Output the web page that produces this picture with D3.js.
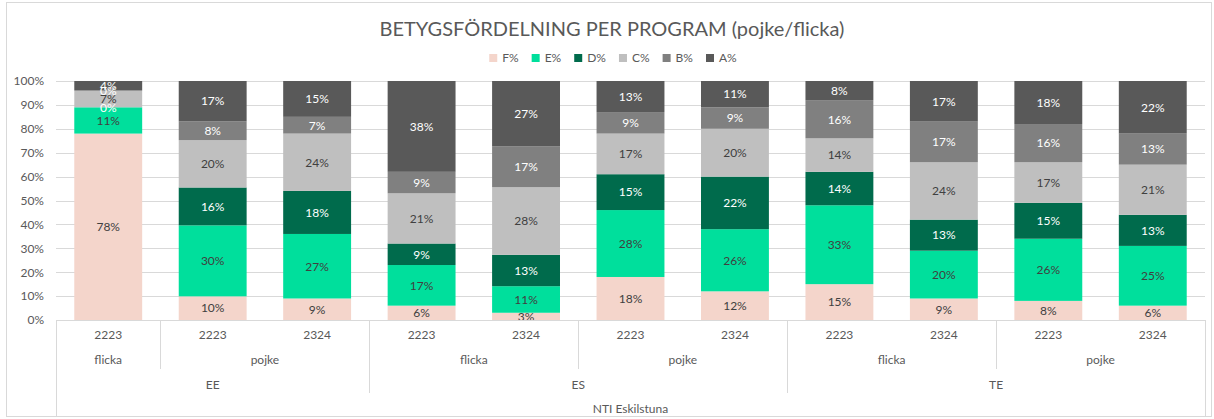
<!DOCTYPE html>
<html>
<head>
<meta charset="utf-8">
<script src="https://cdn.jsdelivr.net/npm/d3@7"></script>
<style>
  body { margin: 0; background: #fff; }
  svg { display: block; font-family: "Lato", "Noto Sans", sans-serif; }
</style>
</head>
<body>
<svg id="chart" width="1214" height="419"></svg>
<script>
// chart data
var years = ["2223", "2223", "2324", "2223", "2324", "2223", "2324", "2223", "2324", "2223", "2324"];
var genders = ["flicka", "pojke", "pojke", "flicka", "flicka", "pojke", "pojke", "flicka", "flicka", "pojke", "pojke"];
var programs = ["EE", "EE", "EE", "ES", "ES", "ES", "ES", "TE", "TE", "TE", "TE"];
var school = "NTI Eskilstuna";
var grades = ["F%", "E%", "D%", "C%", "B%", "A%"];
var F = [78, 10, 9, 6, 3, 18, 12, 15, 9, 8, 6];
var E = [11, 30, 27, 17, 11, 28, 26, 33, 20, 26, 25];
var D = [0, 16, 18, 9, 13, 15, 22, 14, 13, 15, 13];
var C = [7, 20, 24, 21, 28, 17, 20, 14, 24, 17, 21];
var B = [0, 8, 7, 9, 17, 9, 9, 16, 17, 16, 13];
var A = [4, 17, 15, 38, 27, 13, 11, 8, 17, 18, 22];
var yTicks = [0, 0.1, 0.2, 0.3, 0.4, 0.5, 0.6, 0.7, 0.8, 0.9, 1];
var title = "BETYGSFÖRDELNING PER PROGRAM (pojke/flicka)";

var colors = ["#f4d5cb", "#00df9c", "#006b4c", "#bfbfbf", "#808080", "#595959"];
var labelColors = ["#404040", "#404040", "#ffffff", "#404040", "#ffffff", "#ffffff"];

var svg = d3.select("#chart");
var plotLeft = 56, plotRight = 1205, plotTop = 81, plotBottom = 320;

// outer chart border
svg.append("rect")
    .attr("x", 6.5).attr("y", 2.5)
    .attr("width", 1205).attr("height", 414)
    .attr("fill", "none").attr("stroke", "#d9d9d9");

var rows = years.map(function (y, i) {
    return { i: i, F: F[i], E: E[i], D: D[i], C: C[i], B: B[i], A: A[i] };
});
var keys = ["F", "E", "D", "C", "B", "A"];

var x = d3.scaleBand().domain(d3.range(years.length))
    .range([plotLeft, plotRight]).paddingInner(0.35).paddingOuter(0.175);
var y = d3.scaleLinear().domain([0, 1]).range([plotBottom, plotTop]);

// gridlines
svg.append("g").selectAll("line").data(yTicks).join("line")
    .attr("x1", plotLeft).attr("x2", plotRight)
    .attr("y1", function (d) { return Math.round(y(d)) + 0.5; })
    .attr("y2", function (d) { return Math.round(y(d)) + 0.5; })
    .attr("stroke", "#d9d9d9").attr("stroke-width", 1);

// y axis labels
var yAxis = d3.axisLeft(y).tickValues(yTicks).tickFormat(d3.format(".0%")).tickSize(0).tickPadding(12);
var gy = svg.append("g").attr("transform", "translate(" + plotLeft + ",0)").call(yAxis);
gy.select(".domain").remove();
gy.selectAll("text").attr("fill", "#595959").style("font-size", "12px")
    .style("font-family", "Lato, 'Noto Sans', sans-serif");

// stacked bars (100% stacked)
var stack = d3.stack().keys(keys).offset(d3.stackOffsetExpand);
var series = stack(rows);

var layers = svg.append("g").selectAll("g").data(series).join("g")
    .attr("fill", function (d, k) { return colors[k]; });
layers.selectAll("rect").data(function (d) { return d; }).join("rect")
    .attr("x", function (d) { return x(d.data.i); })
    .attr("width", x.bandwidth())
    .attr("y", function (d) { return y(d[1]); })
    .attr("height", function (d) { return y(d[0]) - y(d[1]); });

// data labels
var labels = svg.append("g").style("font-size", "12px").attr("text-anchor", "middle");
series.forEach(function (s, k) {
    labels.append("g").attr("fill", labelColors[k]).selectAll("text").data(s).join("text")
        .attr("x", function (d) { return x(d.data.i) + x.bandwidth() / 2; })
        .attr("y", function (d) { return y((d[0] + d[1]) / 2); })
        .attr("dy", "0.36em")
        .text(function (d) { return d.data[s.key] + "%"; });
});

// category axis (multi-level)
var axisCol = "#d9d9d9", textCol = "#595959";
var cat = svg.append("g");
cat.append("line").attr("x1", plotLeft).attr("x2", plotRight)
    .attr("y1", plotBottom + 0.5).attr("y2", plotBottom + 0.5).attr("stroke", axisCol);

var step = x.step();
function edge(i) { return plotLeft + i * step; }

cat.selectAll(".yr").data(years).join("text")
    .attr("x", function (d, i) { return x(i) + x.bandwidth() / 2; })
    .attr("y", 339).attr("text-anchor", "middle").attr("fill", textCol)
    .style("font-size", "12px").text(function (d) { return d; });

function runs(keyFn) {
    var out = [];
    years.forEach(function (d, i) {
        var k = keyFn(i);
        if (out.length && out[out.length - 1].key === k) out[out.length - 1].end = i + 1;
        else out.push({ key: k, start: i, end: i + 1 });
    });
    return out;
}
var genderRuns = runs(function (i) { return programs[i] + "|" + genders[i]; });
var programRuns = runs(function (i) { return programs[i]; });

cat.selectAll(".gl").data(genderRuns).join("text")
    .attr("x", function (d) { return (edge(d.start) + edge(d.end)) / 2; })
    .attr("y", 364).attr("text-anchor", "middle").attr("fill", textCol)
    .style("font-size", "12px").text(function (d) { return d.key.split("|")[1]; });

cat.selectAll(".pl").data(programRuns).join("text")
    .attr("x", function (d) { return (edge(d.start) + edge(d.end)) / 2; })
    .attr("y", 389).attr("text-anchor", "middle").attr("fill", textCol)
    .style("font-size", "12px").text(function (d) { return d.key; });

cat.append("text").attr("x", (plotLeft + plotRight) / 2).attr("y", 413)
    .attr("text-anchor", "middle").attr("fill", textCol)
    .style("font-size", "12px").text(school);

// separator lines
genderRuns.slice(1).forEach(function (r) {
    var isProg = programRuns.some(function (p) { return p.start === r.start; });
    cat.append("line")
        .attr("x1", Math.round(edge(r.start)) + 0.5).attr("x2", Math.round(edge(r.start)) + 0.5)
        .attr("y1", plotBottom).attr("y2", isProg ? 393 : 369).attr("stroke", axisCol);
});
[plotLeft, plotRight].forEach(function (xx) {
    cat.append("line").attr("x1", Math.round(xx) + 0.5).attr("x2", Math.round(xx) + 0.5)
        .attr("y1", plotBottom).attr("y2", 417).attr("stroke", axisCol);
});

// title
svg.append("text").attr("x", 612).attr("y", 36).attr("text-anchor", "middle")
    .attr("fill", "#595959").style("font-size", "20px").text(title);

// legend
var legend = svg.append("g").style("font-size", "12px");
var lx = 0;
grades.forEach(function (g, k) {
    var it = legend.append("g").attr("transform", "translate(" + lx + ",0)");
    it.append("rect").attr("x", 0).attr("y", -4).attr("width", 8).attr("height", 8).attr("fill", colors[k]);
    var t = it.append("text").attr("x", 13).attr("dy", "0.36em").attr("fill", textCol).text(g);
    lx += 13 + t.node().getComputedTextLength() + 13;
});
var lw = lx - 13;
legend.attr("transform", "translate(" + (613 - lw / 2) + ",58)");
</script>
</body>
</html>
